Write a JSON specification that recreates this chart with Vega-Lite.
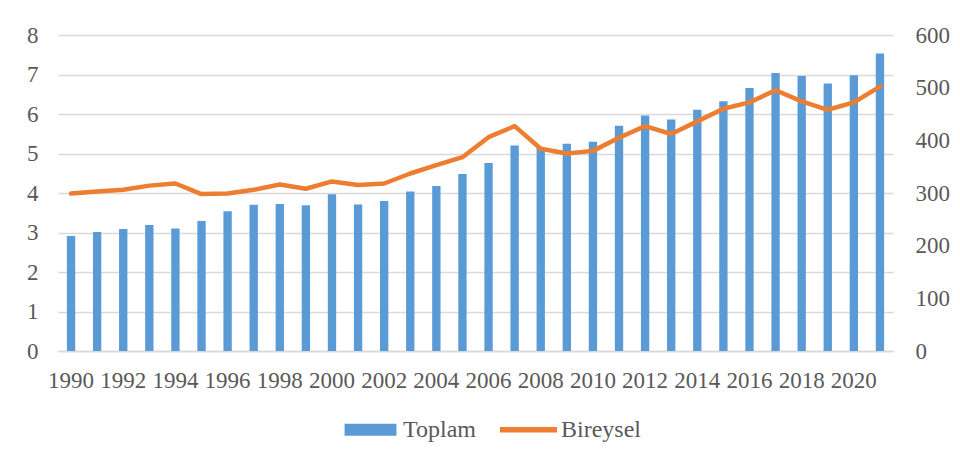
{
  "$schema": "https://vega.github.io/schema/vega-lite/v6.json",
  "width": 835,
  "height": 316,
  "autosize": "none",
  "padding": {"left": 58, "top": 35, "right": 67, "bottom": 118},
  "background": "white",
  "config": {
    "view": {"stroke": null},
    "font": "Liberation Serif",
    "axis": {"labelFont": "Liberation Serif", "labelFontSize": 23, "labelColor": "#595959", "ticks": false, "title": null}
  },
  "data": {
    "values": [
      {"year": 1990, "Toplam": 2.91, "Bireysel": 299},
      {"year": 1991, "Toplam": 3.01, "Bireysel": 303},
      {"year": 1992, "Toplam": 3.09, "Bireysel": 306},
      {"year": 1993, "Toplam": 3.19, "Bireysel": 314},
      {"year": 1994, "Toplam": 3.10, "Bireysel": 318},
      {"year": 1995, "Toplam": 3.29, "Bireysel": 298},
      {"year": 1996, "Toplam": 3.54, "Bireysel": 299},
      {"year": 1997, "Toplam": 3.70, "Bireysel": 306},
      {"year": 1998, "Toplam": 3.72, "Bireysel": 316},
      {"year": 1999, "Toplam": 3.69, "Bireysel": 308},
      {"year": 2000, "Toplam": 3.97, "Bireysel": 322},
      {"year": 2001, "Toplam": 3.71, "Bireysel": 315},
      {"year": 2002, "Toplam": 3.80, "Bireysel": 318},
      {"year": 2003, "Toplam": 4.04, "Bireysel": 337},
      {"year": 2004, "Toplam": 4.18, "Bireysel": 353},
      {"year": 2005, "Toplam": 4.48, "Bireysel": 368},
      {"year": 2006, "Toplam": 4.76, "Bireysel": 406},
      {"year": 2007, "Toplam": 5.20, "Bireysel": 427},
      {"year": 2008, "Toplam": 5.15, "Bireysel": 384},
      {"year": 2009, "Toplam": 5.25, "Bireysel": 375},
      {"year": 2010, "Toplam": 5.30, "Bireysel": 380},
      {"year": 2011, "Toplam": 5.70, "Bireysel": 405},
      {"year": 2012, "Toplam": 5.96, "Bireysel": 427},
      {"year": 2013, "Toplam": 5.86, "Bireysel": 412},
      {"year": 2014, "Toplam": 6.11, "Bireysel": 436},
      {"year": 2015, "Toplam": 6.32, "Bireysel": 460},
      {"year": 2016, "Toplam": 6.66, "Bireysel": 472},
      {"year": 2017, "Toplam": 7.04, "Bireysel": 495},
      {"year": 2018, "Toplam": 6.96, "Bireysel": 474},
      {"year": 2019, "Toplam": 6.77, "Bireysel": 458},
      {"year": 2020, "Toplam": 6.98, "Bireysel": 472},
      {"year": 2021, "Toplam": 7.53, "Bireysel": 502}
    ]
  },
  "encoding": {
    "x": {
      "field": "year",
      "type": "ordinal",
      "scale": {"paddingInner": 0.68, "paddingOuter": 0.34},
      "axis": {
        "labelAngle": 0,
        "labelExpr": "datum.value % 2 == 0 ? datum.label : ''",
        "labelPadding": 18,
        "domainColor": "#d9d9d9",
        "domainWidth": 1.5,
        "grid": false,
        "labelOverlap": false
      }
    }
  },
  "layer": [
    {
      "mark": {"type": "bar"},
      "encoding": {
        "y": {
          "field": "Toplam",
          "type": "quantitative",
          "scale": {"domain": [0, 8], "nice": false},
          "axis": {
            "orient": "left",
            "values": [0, 1, 2, 3, 4, 5, 6, 7, 8],
            "domain": false,
            "grid": true,
            "gridColor": "#d9d9d9",
            "gridWidth": 1.5,
            "labelPadding": 20
          }
        },
        "color": {
          "datum": "Toplam",
          "type": "nominal",
          "scale": {"domain": ["Toplam", "Bireysel"], "range": ["#5B9BD5", "#ED7D31"]},
          "legend": {
            "orient": "none",
            "legendX": 284,
            "legendY": 366,
            "direction": "horizontal",
            "title": null,
            "padding": 0,
            "labelFont": "Liberation Serif",
            "labelFontSize": 24,
            "labelColor": "#595959",
            "labelOffset": 4,
            "columnPadding": 24,
            "symbolSize": 3249,
            "symbolStrokeWidth": 0,
            "encode": {
              "symbols": {
                "update": {
                  "shape": {"signal": "datum.value == 'Toplam' ? 'M-0.91,-0.21H0.91V0.21H-0.91Z' : 'M-1,-0.1H1V0.1H-1Z'"},
                  "fill": {"signal": "datum.value == 'Toplam' ? '#5B9BD5' : '#ED7D31'"},
                  "strokeWidth": {"value": 0},
                  "opacity": {"value": 1}
                }
              }
            }
          }
        }
      }
    },
    {
      "mark": {"type": "line", "strokeWidth": 4.5, "strokeJoin": "round", "strokeCap": "round"},
      "encoding": {
        "y": {
          "field": "Bireysel",
          "type": "quantitative",
          "scale": {"domain": [0, 600], "nice": false},
          "axis": {
            "orient": "right",
            "values": [0, 100, 200, 300, 400, 500, 600],
            "domain": false,
            "grid": false,
            "labelPadding": 22
          }
        },
        "color": {"datum": "Bireysel", "type": "nominal"}
      }
    }
  ],
  "resolve": {"scale": {"y": "independent"}}
}
